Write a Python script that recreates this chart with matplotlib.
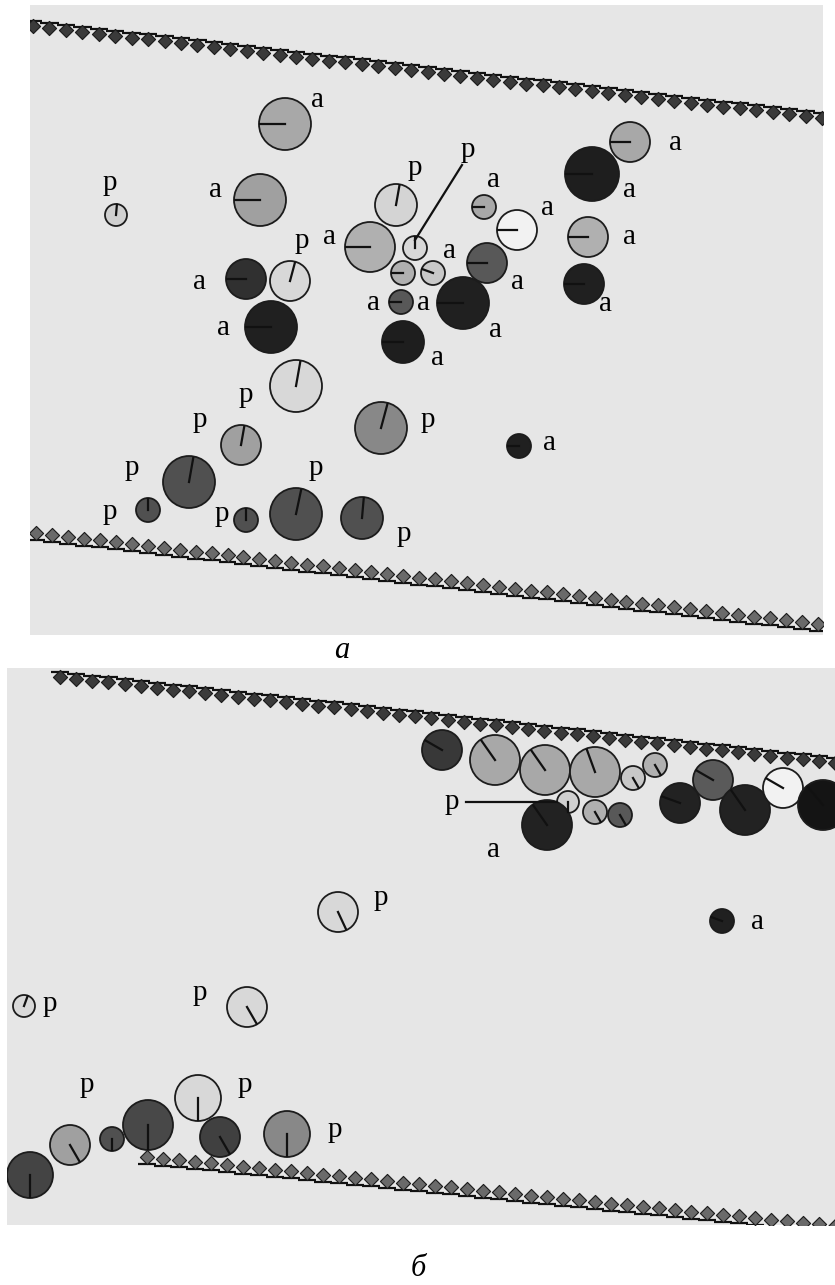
import numpy as np
import matplotlib
matplotlib.use('Agg')
from matplotlib import pyplot as plt
from matplotlib.patches import Circle, Rectangle

W, H = 835, 1285

# panel frames (pixel units): x0, y0, x1, y1
frame_a = (30, 5, 823, 635)
frame_b = (7, 668, 835, 1225)

# walls: start point, end point, number of beads
wall_a_top = ((33, 26), (822, 118), 49)
wall_a_bot = ((36, 533), (818, 624), 50)
wall_b_top = ((60, 677), (835, 763), 49)
wall_b_bot = ((147, 1157), (835, 1226), 44)

# panel a particles: x, y, radius, gray, stick angle (deg, 0=right, 90=down)
a_x = [285, 630, 592, 116, 260, 396, 484, 517, 588, 370, 415, 290, 246, 403, 433,
       487, 584, 401, 463, 271, 403, 296, 381, 241, 519, 189, 148, 246, 296, 362]
a_y = [124, 142, 174, 215, 200, 205, 207, 230, 237, 247, 248, 281, 279, 273, 273,
       263, 284, 302, 303, 327, 342, 386, 428, 445, 446, 482, 510, 520, 514, 518]
a_r = [26, 20, 27, 11, 26, 21, 12, 20, 20, 25, 12, 20, 20, 12, 12,
       20, 20, 12, 26, 26, 21, 26, 26, 20, 12, 26, 12, 12, 26, 21]
a_gray = ['#a8a8a8', '#a8a8a8', '#1e1e1e', '#d0d0d0', '#a0a0a0', '#d4d4d4', '#a8a8a8',
          '#f2f2f2', '#b0b0b0', '#b0b0b0', '#d8d8d8', '#d8d8d8', '#303030', '#b0b0b0',
          '#c8c8c8', '#585858', '#202020', '#585858', '#202020', '#202020', '#1e1e1e',
          '#d8d8d8', '#888888', '#a0a0a0', '#202020', '#505050', '#505050', '#505050',
          '#505050', '#505050']
a_ang = [180, 180, 180, 275, 180, 280, 180, 180, 180, 180, 270, 285, 180, 180, 200,
         180, 180, 180, 180, 180, 180, 280, 285, 280, 180, 280, 270, 270, 282, 275]

a_lab_x = [318, 675, 630, 110, 215, 415, 494, 547, 630, 330, 302, 200, 450,
           517, 605, 373, 423, 495, 223, 437, 246, 428, 200, 549, 132, 110, 222, 316, 404]
a_lab_y = [100, 143, 190, 183, 190, 168, 180, 208, 237, 237, 241, 282, 251,
           282, 304, 303, 303, 330, 328, 358, 395, 420, 420, 443, 468, 512, 514, 468, 534]
a_lab = ['a', 'a', 'a', 'p', 'a', 'p', 'a', 'a', 'a', 'a', 'p', 'a', 'a',
         'a', 'a', 'a', 'a', 'a', 'a', 'a', 'p', 'p', 'p', 'a', 'p', 'p', 'p', 'p', 'p']
# pointer label "p" in panel a
a_ptr_lab = (468, 150)
a_ptr = ((462, 165), (415, 240))

# panel b particles
b_x = [442, 495, 545, 595, 633, 655, 713, 680, 745, 783, 823, 568, 595, 620, 547,
       338, 722, 24, 247, 30, 70, 112, 148, 198, 220, 287]
b_y = [750, 760, 770, 772, 778, 765, 780, 803, 810, 788, 805, 802, 812, 815, 825,
       912, 921, 1006, 1007, 1175, 1145, 1139, 1125, 1098, 1137, 1134]
b_r = [20, 25, 25, 25, 12, 12, 20, 20, 25, 20, 25, 11, 12, 12, 25,
       20, 12, 11, 20, 23, 20, 12, 25, 23, 20, 23]
b_gray = ['#383838', '#a8a8a8', '#a8a8a8', '#a8a8a8', '#c8c8c8', '#b0b0b0', '#5a5a5a',
          '#222222', '#222222', '#f2f2f2', '#141414', '#d0d0d0', '#b0b0b0', '#585858',
          '#222222', '#d8d8d8', '#202020', '#d8d8d8', '#d8d8d8', '#444444', '#a0a0a0',
          '#505050', '#484848', '#d8d8d8', '#404040', '#888888']
b_ang = [210, 235, 235, 250, 60, 60, 210, 200, 235, 210, 230, 90, 60, 60, 235,
         65, 200, 290, 60, 90, 60, 90, 90, 90, 60, 90]

b_lab_x = [381, 757, 50, 200, 87, 245, 335, 493]
b_lab_y = [898, 922, 1004, 993, 1085, 1085, 1130, 850]
b_lab = ['p', 'a', 'p', 'p', 'p', 'p', 'p', 'a']
b_ptr_lab = (452, 802)
b_ptr = ((466, 802), (557, 802))

captions = ['а', 'б']
caption_xy = [(342, 650), (418, 1268)]

LABEL_FONT = ['Liberation Serif', 'DejaVu Serif']


def draw_wall(ax, wall, clip, top=True):
    (x0, y0), (x1, y1), n = wall
    xs = np.linspace(x0, x1, n)
    ys = np.linspace(y0, y1, n)
    step = (x1 - x0) / (n - 1)
    off = -5 if top else 7
    face = '#3a3a3a' if top else '#6a6a6a'
    for x, y in zip(xs, ys):
        seg, = ax.plot([x - step / 2 - 1, x + step / 2 + 1], [y + off, y + off],
                       color='#111111', lw=1.6, solid_capstyle='butt')
        seg.set_clip_path(clip)
        stem, = ax.plot([x, x], [y, y + off], color='#111111', lw=1.2)
        stem.set_clip_path(clip)
    sc = ax.scatter(xs, ys, s=52, marker='D', c=face, edgecolors='#1a1a1a',
                    linewidths=0.8, zorder=3)
    sc.set_clip_path(clip)


def draw_particles(ax, xs, ys, rs, grays, angs, clip):
    for x, y, r, g, ang in zip(xs, ys, rs, grays, angs):
        c = Circle((x, y), r, facecolor=g, edgecolor='#1c1c1c', lw=1.3, zorder=4)
        ax.add_patch(c)
        c.set_clip_path(clip)
        t = np.deg2rad(ang)
        ln, = ax.plot([x, x + 0.95 * r * np.cos(t)], [y, y + 0.95 * r * np.sin(t)],
                      color='#111111', lw=1.6, zorder=5)
        ln.set_clip_path(clip)


fig = plt.figure(figsize=(W / 100, H / 100), dpi=100)
ax = fig.add_axes([0, 0, 1, 1])
ax.set_xlim(0, W)
ax.set_ylim(H, 0)
ax.axis('off')

for frame, walls, parts in [
        (frame_a, (wall_a_top, wall_a_bot), (a_x, a_y, a_r, a_gray, a_ang)),
        (frame_b, (wall_b_top, wall_b_bot), (b_x, b_y, b_r, b_gray, b_ang))]:
    x0, y0, x1, y1 = frame
    bg = Rectangle((x0, y0), x1 - x0, y1 - y0, facecolor='#e6e6e6', edgecolor='none', zorder=0)
    ax.add_patch(bg)
    draw_wall(ax, walls[0], bg, top=True)
    draw_wall(ax, walls[1], bg, top=False)
    draw_particles(ax, *parts, bg)

for xs, ys, labs in [(a_lab_x, a_lab_y, a_lab), (b_lab_x, b_lab_y, b_lab)]:
    for x, y, s in zip(xs, ys, labs):
        ax.text(x, y, s, fontsize=21, family=LABEL_FONT, ha='center', va='center', zorder=6)

for lab, ptr in [(a_ptr_lab, a_ptr), (b_ptr_lab, b_ptr)]:
    ax.text(lab[0], lab[1], 'p', fontsize=21, family=LABEL_FONT, ha='center', va='center', zorder=6)
    ax.plot([ptr[0][0], ptr[1][0]], [ptr[0][1], ptr[1][1]], color='#111111', lw=1.6, zorder=6)

for s, (x, y) in zip(captions, caption_xy):
    ax.text(x, y, s, fontsize=22, family=LABEL_FONT, style='italic', ha='center', va='center')

fig.savefig('out.png', dpi=100, facecolor='white')
